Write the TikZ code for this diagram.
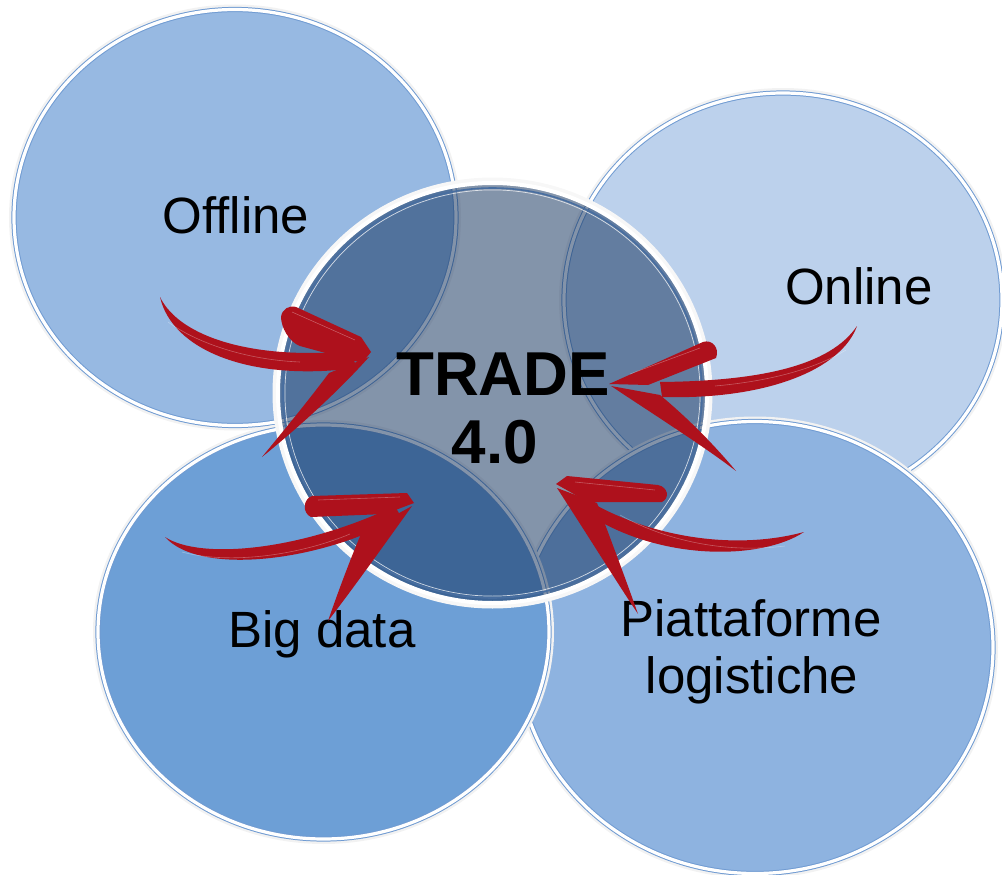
\documentclass[tikz,border=0pt]{standalone}
\usepackage{fontspec}
\setmainfont{Liberation Sans}
\usetikzlibrary{shapes.geometric}

\definecolor{offfill}{RGB}{151,185,226}
\definecolor{onfill}{RGB}{188,209,236}
\definecolor{bigfill}{RGB}{109,159,214}
\definecolor{piafill}{RGB}{142,179,224}
\definecolor{rim}{RGB}{112,155,210}
\definecolor{core}{RGB}{18,49,92}
\definecolor{corerim}{RGB}{72,110,160}
\definecolor{brushred}{RGB}{174,17,28}

% one outer bubble: soft halo, then the filled ellipse with a double rim
\newcommand\bubble[6]{%
  \draw[halo] (#2,#3) ellipse [x radius=#4pt/2+1pt, y radius=#5pt/2+1pt];
  \node[bubble, fill=#6, minimum width=#4pt, minimum height=#5pt] (#1) at (#2,#3) {};
}

\begin{document}
\begin{tikzpicture}[x=1pt,y=-1pt,
  halo/.style={black!5, line width=8pt},
  bubble/.style={ellipse, inner sep=0pt, outer sep=0pt, draw=rim,
    line width=1pt, double=white, double distance=3.2pt},
  hub/.style={ellipse, inner sep=0pt, outer sep=0pt, fill=core,
    fill opacity=0.52, draw=white, line width=4pt},
  lbl/.style={anchor=base, inner sep=0pt, font=\fontsize{51}{60}\selectfont},
  hubtxt/.style={anchor=base, inner sep=0pt, font=\bfseries\fontsize{62}{66}\selectfont},
  brush/.style={fill=brushred},
  bristle/.style={draw=white, draw opacity=0.3, line width=0.6pt}]
\useasboundingbox (0,0) rectangle (1002,875);

% the four surrounding fields
\bubble{offline}{235}{217.5}{442}{416}{offfill}
\bubble{online}{783}{300}{438}{414}{onfill}
\bubble{logist}{755}{647.5}{476}{452}{piafill}
\bubble{bigdata}{323.5}{632}{451}{414}{bigfill}

% translucent hub in the middle
\draw[black!3, line width=5pt] (492.5,393) ellipse [x radius=217.5pt, y radius=213pt];
\node[hub, minimum width=429pt, minimum height=420pt] (trade) at (492.5,393) {};
\draw[corerim, line width=1.6pt] (trade.center) ellipse [x radius=209.5pt, y radius=205pt];
\draw[white, opacity=0.75, line width=0.7pt] (trade.center) ellipse [x radius=207.6pt, y radius=203.1pt];

% labels
\node[lbl] (toff) at (236,233) {Offline};
\node[lbl] (tonl) at (859,304) {Online};
\node[lbl] (tbig) at (322,647) {Big data};
\node[lbl] (tpia1) at (751,636) {Piattaforme};
\node[lbl] (tpia2) at (752,693) {logistiche};
\node[hubtxt] (ttrade) at (503,395) {TRADE};
\node[hubtxt] (tfour) at (495,463) {4.0};

% brush arrow from Offline
\fill[brush] (160,297) .. controls (180,338) and (255,360) .. (352,351)
  -- (356,368) .. controls (250,382) and (172,350) .. (160,297) -- cycle;
\fill[brush] (281,317) .. controls (282,309) and (289,305) .. (296,307)
  -- (361,337) -- (371,352) -- (362,363) -- (300,346)
  .. controls (289,342) and (281,327) .. (281,317) -- cycle;
\fill[brush] (369,357) -- (329,373) .. controls (305,405) and (280,435) .. (262,457)
  .. controls (293,432) and (337,393) .. (369,357) -- cycle;
\draw[bristle] (168,322) .. controls (200,345) and (250,360) .. (300,362);
\draw[bristle] (292,312) -- (355,340);

% brush arrow from Online
\fill[brush] (857,326) .. controls (830,366) and (760,381) .. (660,382)
  -- (662,397) .. controls (770,400) and (842,368) .. (857,326) -- cycle;
\fill[brush] (609,384) -- (703,342) .. controls (712,339) and (720,348) .. (716,358)
  -- (648,385) -- cycle;
\fill[brush] (611,386) -- (660,395) .. controls (690,420) and (715,446) .. (736,471)
  .. controls (705,447) and (650,412) .. (611,386) -- cycle;
\draw[bristle] (846,350) .. controls (810,372) and (760,382) .. (715,386);
\draw[bristle] (630,374) -- (700,348);

% brush arrow from Big data
\fill[brush] (414,503) -- (407,493) -- (312,496) .. controls (303,499) and (302,513) .. (311,517)
  -- (385,514) -- cycle;
\fill[brush] (165,537) .. controls (200,560) and (300,551) .. (395,506)
  -- (401,517) .. controls (320,562) and (200,576) .. (165,537) -- cycle;
\fill[brush] (412,506) -- (361,534) .. controls (350,560) and (338,592) .. (328,621)
  .. controls (352,590) and (387,541) .. (412,506) -- cycle;
\draw[bristle] (182,552) .. controls (230,565) and (300,555) .. (350,534);
\draw[bristle] (318,500) -- (400,497);

% brush arrow from Piattaforme logistiche
\fill[brush] (556,484) -- (567,476) -- (658,485) .. controls (668,487) and (670,498) .. (662,502)
  -- (588,502) -- cycle;
\fill[brush] (579,495) .. controls (640,535) and (730,552) .. (804,532)
  .. controls (762,560) and (660,562) .. (586,513) -- cycle;
\fill[brush] (557,488) -- (597,503) .. controls (611,540) and (626,580) .. (638,614)
  .. controls (616,581) and (585,531) .. (557,488) -- cycle;
\draw[bristle] (620,515) .. controls (670,543) and (730,553) .. (785,546);
\draw[bristle] (575,482) -- (655,490);

\end{tikzpicture}
\end{document}
